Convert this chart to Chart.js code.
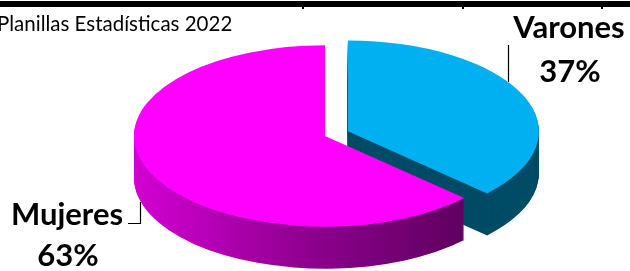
<!DOCTYPE html>
<html>
<head>
<meta charset="utf-8">
<script src="https://cdn.jsdelivr.net/npm/chart.js@4"></script>
<style>
  html, body { margin: 0; padding: 0; background: #fff; }
  #wrap { width: 630px; height: 271px; position: relative; overflow: hidden; }
</style>
</head>
<body>
<div id="wrap"><canvas id="c" width="630" height="271"></canvas></div>
<script>
// ---- data ----
const categories = ['Varones', 'Mujeres'];
const values = [37, 63];
const percentLabels = ['37%', '63%'];
const titleText = 'Planillas Estadísticas 2022';

// ---- styling ----
const topColors = ['#00B0F0', '#FF00FF'];
const explode = [25, 0];  // px along slice bisector (unsquashed units)
const CY = 136;      // screen y of pie centre
const K = 0.475;     // vertical squash
const DEPTH = 42;    // side depth in px

function cloneArc(arc, color) {
  const o = Object.create(arc);
  o.options = Object.assign({}, arc.options, { backgroundColor: color, borderWidth: 0, offset: 0 });
  return o;
}

const pie3d = {
  id: 'pie3d',
  beforeDraw(chart) {
    const ctx = chart.ctx;
    ctx.save();
    ctx.fillStyle = '#000';
    ctx.fillRect(0, 1, 630, 6);
    [303, 463, 602].forEach(x => ctx.fillRect(x - 1, 1, 2, 8));
    ctx.font = '20.5px Lato';
    ctx.textBaseline = 'alphabetic';
    ctx.textAlign = 'left';
    ctx.fillText(titleText, -3, 31);
    ctx.restore();
  },
  beforeDatasetsDraw(chart) {
    const ctx = chart.ctx;
    const meta = chart.getDatasetMeta(0);
    const cy0 = meta.data[0].y;
    ctx.save();
    ctx.translate(0, CY);
    ctx.scale(1, K);
    ctx.translate(0, -cy0);
    const grad = ctx.createLinearGradient(132, 0, 482, 0);
    grad.addColorStop(0, '#D400D4');
    grad.addColorStop(0.5, '#8E008E');
    grad.addColorStop(1, '#5A005A');
    const sideColors = ['#004B66', grad];
    const shift = meta.data.map((arc, i) => {
      const mid = (arc.startAngle + arc.endAngle) / 2;
      return [Math.cos(mid) * explode[i], Math.sin(mid) * explode[i]];
    });
    for (let d = DEPTH; d >= 1; d--) {
      meta.data.forEach((arc, i) => {
        ctx.save();
        ctx.translate(shift[i][0], shift[i][1] + d / K);
        cloneArc(arc, sideColors[i]).draw(ctx);
        ctx.restore();
      });
    }
    meta.data.forEach((arc, i) => {
      ctx.save();
      ctx.translate(shift[i][0], shift[i][1]);
      cloneArc(arc, topColors[i]).draw(ctx);
      ctx.restore();
    });
    ctx.restore();
    return false;
  },
  afterDraw(chart) {
    const ctx = chart.ctx;
    ctx.save();
    ctx.strokeStyle = '#000';
    ctx.lineWidth = 1.2;
    ctx.beginPath();
    ctx.moveTo(508.5, 45);
    ctx.lineTo(508.5, 82);
    ctx.stroke();
    ctx.beginPath();
    ctx.moveTo(128, 223.5);
    ctx.lineTo(140.5, 223.5);
    ctx.lineTo(140.5, 202);
    ctx.stroke();
    ctx.fillStyle = '#000';
    ctx.font = 'bold 31px Lato';
    ctx.textAlign = 'center';
    ctx.textBaseline = 'alphabetic';
    ctx.fillText(categories[0], 569, 38);
    ctx.fillText(percentLabels[0], 570, 82);
    ctx.fillText(categories[1], 67, 225);
    ctx.fillText(percentLabels[1], 68, 266);
    ctx.restore();
  }
};

new Chart(document.getElementById('c'), {
  type: 'pie',
  data: {
    labels: categories,
    datasets: [{
      data: values,
      backgroundColor: topColors,
      borderWidth: 0,
      clip: false
    }]
  },
  options: {
    responsive: false,
    animation: false,
    events: [],
    radius: 191,
    rotation: 0,
    layout: { padding: { left: 20, right: 0, top: 0, bottom: 0 } },
    plugins: { legend: { display: false }, tooltip: { enabled: false }, title: { display: false } }
  },
  plugins: [pie3d]
});
</script>
</body>
</html>
